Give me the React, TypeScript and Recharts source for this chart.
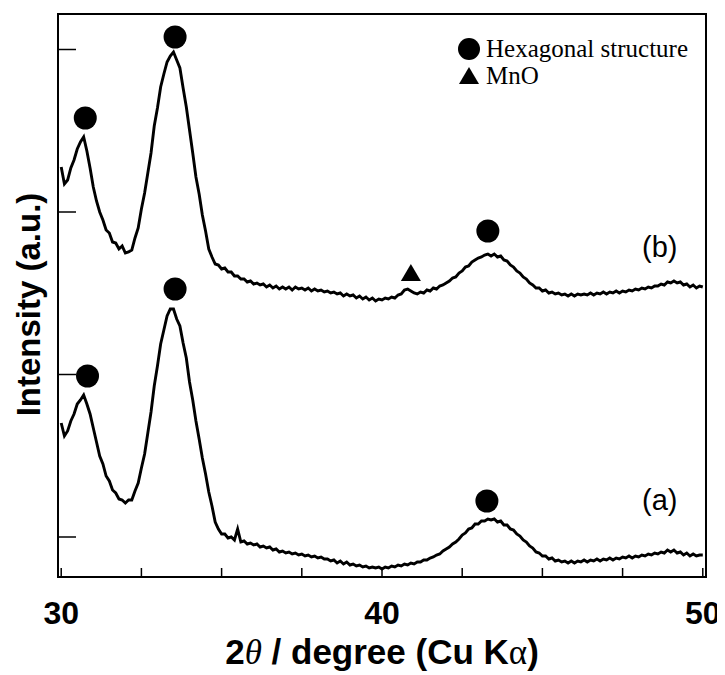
import React from 'react';
import { ComposedChart, Line, Scatter, XAxis, YAxis, ReferenceArea, ReferenceDot, Label, Legend } from 'recharts';

// 2θ sampled from 30.0° to 50.0° in 0.1° steps
const START_ANGLE = 30;
const ANGLE_STEP = 0.1;

// pattern (b) – upper trace, intensity (a.u.)
const intensityB = [
  410, 393, 397, 409, 417, 428, 435, 440, 426, 409,
  390, 376, 365, 357, 347, 344, 335, 334, 328, 331,
  324, 325, 327, 339, 349, 368, 384, 404, 424, 451,
  469, 490, 503, 515, 521, 525, 517, 509, 489, 470,
  447, 424, 400, 383, 362, 346, 328, 320, 313, 312,
  308, 309, 305, 305, 301, 301, 298, 298, 295, 296,
  293, 294, 292, 293, 290, 292, 289, 291, 288, 290,
  288, 290, 287, 290, 288, 289, 287, 289, 286, 288,
  286, 287, 285, 286, 284, 285, 283, 284, 281, 283,
  281, 282, 279, 281, 278, 280, 277, 279, 276, 278,
  277, 279, 278, 280, 279, 282, 283, 287, 288, 286,
  284, 283, 285, 284, 287, 286, 289, 288, 291, 292,
  294, 296, 299, 300, 304, 306, 310, 311, 315, 317,
  319, 320, 322, 323, 321, 323, 320, 321, 317, 316,
  312, 310, 306, 304, 300, 298, 294, 292, 289, 289,
  286, 287, 284, 285, 283, 284, 282, 283, 281, 283,
  281, 283, 282, 283, 282, 284, 282, 284, 283, 285,
  283, 285, 284, 286, 284, 286, 285, 287, 286, 288,
  287, 289, 288, 290, 289, 291, 291, 293, 292, 295,
  294, 296, 294, 295, 292, 293, 290, 292, 289, 291,
  290,
];

// pattern (a) – lower trace, intensity (a.u.)
const intensityA = [
  154, 141, 146, 156, 163, 173, 177, 182, 173, 163,
  149, 135, 121, 113, 101, 96, 87, 84, 78, 77,
  74, 77, 77, 86, 94, 109, 123, 144, 165, 191,
  211, 233, 247, 261, 268, 268, 258, 251, 234, 219,
  195, 177, 156, 138, 119, 103, 85, 71, 55, 48,
  43, 43, 39, 40, 37, 48, 35, 36, 33, 34,
  32, 33, 30, 31, 29, 30, 27, 28, 25, 26,
  24, 25, 23, 24, 22, 23, 21, 22, 20, 21,
  19, 20, 18, 18, 16, 17, 14, 16, 13, 15,
  12, 13, 11, 12, 10, 11, 9, 10, 9, 10,
  8, 10, 9, 11, 10, 12, 11, 13, 12, 14,
  13, 15, 15, 17, 17, 19, 20, 22, 23, 26,
  28, 30, 33, 35, 38, 42, 44, 48, 49, 53,
  53, 56, 56, 58, 57, 58, 55, 56, 52, 52,
  48, 47, 43, 41, 37, 35, 31, 29, 25, 24,
  21, 21, 18, 19, 16, 17, 15, 16, 14, 16,
  14, 16, 15, 17, 15, 17, 16, 18, 16, 18,
  17, 19, 17, 19, 18, 20, 19, 21, 19, 21,
  20, 22, 21, 23, 22, 24, 23, 25, 24, 27,
  25, 27, 24, 25, 22, 24, 21, 23, 21, 22,
  22,
];

// peak markers (2θ, marker height)
const hexMarkersB = [
  { x: 30.75, y: 459 },
  { x: 33.55, y: 540 },
  { x: 43.3, y: 346 },
];
const hexMarkersA = [
  { x: 30.82, y: 201 },
  { x: 33.55, y: 288 },
  { x: 43.27, y: 76 },
];
const mnoMarkers = [{ x: 40.9, y: 304 }];

// axis ticks
const xTicks = [30, 32.5, 35, 37.5, 40, 42.5, 45, 47.5, 50];
const xLabeledTicks = [30, 40, 50];
const yTicks = [40, 202.5, 365, 527.5];
const X_DOMAIN: [number, number] = [29.9, 50.1];
const Y_DOMAIN: [number, number] = [0, 563];

const toSeries = (vals: number[]) =>
  vals.map((v, i) => ({ x: Math.round((START_ANGLE + i * ANGLE_STEP) * 10) / 10, y: v }));

const seriesB = toSeries(intensityB);
const seriesA = toSeries(intensityA);

const SANS = '"Liberation Sans", Arial, Helvetica, sans-serif';
const SERIF = '"Liberation Serif", "Times New Roman", serif';

const XTick = (props: any) => {
  const { x, y, payload } = props;
  const labeled = xLabeledTicks.includes(payload.value);
  return (
    <g>
      <line x1={x} x2={x} y1={y} y2={y - 9} stroke="#000" strokeWidth={1.5} />
      {labeled && (
        <text x={x} y={y + 47} textAnchor="middle" fontFamily={SANS} fontWeight="bold" fontSize={32} fill="#000">
          {payload.value}
        </text>
      )}
    </g>
  );
};

const YTick = (props: any) => {
  const { x, y } = props;
  return <line x1={x} x2={x + 18} y1={y} y2={y} stroke="#000" strokeWidth={1.5} />;
};

const CircleMarker = (props: any) => <circle cx={props.cx} cy={props.cy} r={11.5} fill="#000" />;
const TriangleMarker = (props: any) => {
  const { cx, cy } = props;
  return <polygon points={`${cx - 10},${cy + 8} ${cx + 10},${cy + 8} ${cx},${cy - 9}`} fill="#000" />;
};

const SampleLabel = (text: string) => (props: any) => (
  <text x={props.cx} y={props.cy} textAnchor="middle" dominantBaseline="central" fontFamily={SANS} fontSize={29} fill="#000">
    {text}
  </text>
);

const LegendContent = () => (
  <div style={{ fontFamily: SERIF, fontSize: 25, color: '#000', lineHeight: '27px' }}>
    <div style={{ display: 'flex', alignItems: 'center' }}>
      <svg width={24} height={24}>
        <circle cx={12} cy={12} r={11} fill="#000" />
      </svg>
      <span style={{ marginLeft: 5 }}>Hexagonal structure</span>
    </div>
    <div style={{ display: 'flex', alignItems: 'center' }}>
      <svg width={24} height={24}>
        <polygon points="2,20 22,20 12,3" fill="#000" />
      </svg>
      <span style={{ marginLeft: 5 }}>MnO</span>
    </div>
  </div>
);

const YTitle = (props: any) => {
  const vb = props.viewBox;
  const cx = vb.x + 20;
  const cy = vb.y + vb.height / 2 + 9;
  return (
    <text x={cx} y={cy} transform={`rotate(-90 ${cx} ${cy})`} textAnchor="middle" dominantBaseline="central" fontFamily={SANS} fontWeight="bold" fontSize={33} fill="#000">
      Intensity (a.u.)
    </text>
  );
};

const XTitle = (props: any) => {
  const vb = props.viewBox;
  const cx = vb.x + vb.width / 2;
  return (
    <text x={cx} y={vb.y + 87} textAnchor="middle" fontFamily={SANS} fontWeight="bold" fontSize={35} fill="#000">
      <tspan>2</tspan>
      <tspan fontFamily={SERIF} fontStyle="italic" fontWeight="normal">θ</tspan>
      <tspan> / degree (Cu K</tspan>
      <tspan fontFamily={SERIF} fontWeight="normal">α</tspan>
      <tspan>)</tspan>
    </text>
  );
};

export default function App() {
  return (
    <div style={{ width: 717, height: 667 }}>
      <ComposedChart width={717} height={667} margin={{ top: 6, right: 19, bottom: 0, left: 0 }}>
        <XAxis
          type="number"
          dataKey="x"
          domain={X_DOMAIN}
          ticks={xTicks}
          allowDataOverflow
          height={98}
          tickSize={0}
          tickMargin={0}
          tickLine={false}
          axisLine={{ stroke: '#000', strokeWidth: 2 }}
          tick={<XTick />}
          interval={0}
        >
          <Label content={<XTitle />} />
        </XAxis>
        <YAxis
          type="number"
          domain={Y_DOMAIN}
          ticks={yTicks}
          allowDataOverflow
          width={50}
          tickSize={0}
          tickMargin={0}
          tickLine={false}
          axisLine={{ stroke: '#000', strokeWidth: 2 }}
          tick={<YTick />}
          interval={0}
        >
          <Label content={<YTitle />} />
        </YAxis>
        <ReferenceArea x1={X_DOMAIN[0]} x2={X_DOMAIN[1]} y1={Y_DOMAIN[0]} y2={Y_DOMAIN[1]} fill="none" stroke="#000" strokeWidth={2} />
        <Line data={seriesB} dataKey="y" type="linear" stroke="#000" strokeWidth={2.9} dot={false} isAnimationActive={false} />
        <Line data={seriesA} dataKey="y" type="linear" stroke="#000" strokeWidth={2.9} dot={false} isAnimationActive={false} />
        <Scatter data={hexMarkersB} dataKey="y" shape={<CircleMarker />} isAnimationActive={false} />
        <Scatter data={hexMarkersA} dataKey="y" shape={<CircleMarker />} isAnimationActive={false} />
        <Scatter data={mnoMarkers} dataKey="y" shape={<TriangleMarker />} isAnimationActive={false} />
        <ReferenceDot x={48.66} y={330} r={0} shape={SampleLabel('(b)')} />
        <ReferenceDot x={48.66} y={77} r={0} shape={SampleLabel('(a)')} />
        <Legend
          layout="horizontal"
          verticalAlign="middle"
          align="center"
          content={<LegendContent />}
          wrapperStyle={{ position: 'absolute', left: 449, top: 27, width: 260, height: 60, margin: 0 }}
        />
      </ComposedChart>
    </div>
  );
}
